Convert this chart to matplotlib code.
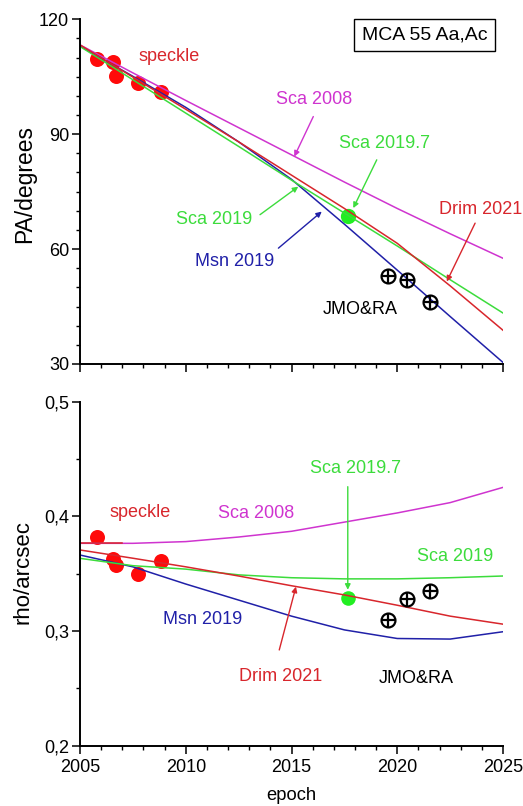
import matplotlib
matplotlib.use('Agg')
import matplotlib.pyplot as plt
from matplotlib.ticker import MultipleLocator, FixedLocator, FixedFormatter

plt.rcParams['font.family'] = ['Liberation Sans', 'DejaVu Sans']

# ---------------- data ----------------
years = [2005, 2007.5, 2010, 2012.5, 2015, 2017.5, 2020, 2022.5, 2025]

# Position angle (degrees)
pa_sca2008 = [113.3, 106.0, 98.8, 91.7, 84.6, 77.5, 70.6, 64.0, 57.6]
pa_drim2021 = [113.3, 104.9, 96.5, 88.0, 79.3, 70.6, 61.5, 50.4, 38.8]
pa_sca2019 = [112.9, 104.2, 95.5, 86.8, 78.0, 69.4, 60.8, 52.0, 43.3]
pa_msn2019 = [113.0, 105.1, 97.0, 88.0, 78.2, 66.5, 54.5, 42.4, 30.4]

# Separation (arcsec)
rho_sca2008 = [0.3765, 0.3765, 0.378, 0.382, 0.387, 0.395, 0.403, 0.412, 0.4253]
rho_drim2021 = [0.3707, 0.3635, 0.356, 0.348, 0.3395, 0.3315, 0.3225, 0.313, 0.306]
rho_sca2019 = [0.3634, 0.357, 0.354, 0.349, 0.3465, 0.3455, 0.3455, 0.3465, 0.348]
rho_msn2019 = [0.3663, 0.356, 0.341, 0.327, 0.313, 0.301, 0.2935, 0.293, 0.2994]
seg_years = [2005, 2007]
seg_rho = [0.3765, 0.3765]

# Speckle measurements
speckle_t = [2005.79, 2006.54, 2006.68, 2007.76, 2008.81]
speckle_pa = [109.6, 108.8, 105.2, 103.3, 101.0]
speckle_rho = [0.382, 0.363, 0.358, 0.350, 0.361]

# Sca 2019.7 point
sca197_t = [2017.66]
sca197_pa = [68.7]
sca197_rho = [0.329]

# JMO&RA measurements
jmo_t = [2019.58, 2020.46, 2021.56]
jmo_pa = [52.9, 52.0, 46.1]
jmo_rho = [0.310, 0.328, 0.335]

pa_ticks = [30, 60, 90, 120]
rho_ticks = [0.2, 0.3, 0.4, 0.5]
rho_ticklabels = ['0,2', '0,3', '0,4', '0,5']
year_ticks = [2005, 2010, 2015, 2020, 2025]

# ---------------- colours ----------------
C_RED = '#d8262c'
C_DOT = '#ff0a0a'
C_MAG = '#cf34cf'
C_GRN = '#3cdc3c'
C_BLU = '#2020a8'

fig = plt.figure(figsize=(5.23, 8.06), dpi=100)
ax1 = fig.add_axes([0.153, 0.5484, 0.8088, 0.4277])
ax2 = fig.add_axes([0.153, 0.0748, 0.8088, 0.4268])

for ax in (ax1, ax2):
    ax.spines['top'].set_visible(False)
    ax.spines['right'].set_visible(False)
    ax.spines['left'].set_linewidth(1.4)
    ax.spines['bottom'].set_linewidth(1.4)
    ax.set_xlim(2005, 2025)
    ax.xaxis.set_major_locator(FixedLocator(year_ticks))
    ax.xaxis.set_minor_locator(MultipleLocator(1))
    ax.tick_params(which='major', length=5.8, width=1.1, labelsize=13, pad=2)
    ax.tick_params(which='minor', length=3.0, width=1.0)
    ax.tick_params(axis='x', which='major', pad=4)

lw = 1.1
# ---- top panel ----
ax1.set_ylim(30, 120)
ax1.yaxis.set_major_locator(FixedLocator(pa_ticks))
ax1.yaxis.set_minor_locator(MultipleLocator(5))
ax1.tick_params(axis='x', labelbottom=False)

ax1.plot(speckle_t, speckle_pa, 'o', color=C_DOT, ms=10.8, mec='none', zorder=1)
ax1.plot(sca197_t, sca197_pa, 'o', color='#22ee22', ms=11, mec='none', zorder=1)
ax1.plot(years, pa_sca2008, color=C_MAG, lw=lw, zorder=2)
ax1.plot(years, pa_msn2019, color=C_BLU, lw=lw, zorder=2)
ax1.plot(years, pa_sca2019, color=C_GRN, lw=lw, zorder=2)
ax1.plot(years, pa_drim2021, color=C_RED, lw=lw, zorder=2)
ax1.plot(jmo_t, jmo_pa, 'o', mfc='none', mec='black', mew=1.6, ms=10, zorder=4)
ax1.plot(jmo_t, jmo_pa, '+', color='black', mew=1.6, ms=10, zorder=4)

fs = 13
def arrow(ax, start, end, color):
    ax.annotate('', xy=end, xytext=start,
                arrowprops=dict(arrowstyle='-|>', color=color, lw=1.0,
                                mutation_scale=8, shrinkA=0, shrinkB=0))

ax1.text(2009.21, 110.2, 'speckle', color=C_RED, fontsize=fs, ha='center', va='center')
ax1.text(2016.06, 98.94, 'Sca 2008', color=C_MAG, fontsize=fs, ha='center', va='center')
arrow(ax1, (2016.03, 94.6), (2015.13, 84.15), C_MAG)
ax1.text(2019.40, 87.64, 'Sca 2019.7', color=C_GRN, fontsize=fs, ha='center', va='center')
arrow(ax1, (2019.03, 83.3), (2017.92, 70.7), C_GRN)
ax1.text(2011.35, 67.63, 'Sca 2019', color=C_GRN, fontsize=fs, ha='center', va='center')
arrow(ax1, (2013.51, 68.98), (2015.32, 76.3), C_GRN)
ax1.text(2012.31, 56.75, 'Msn 2019', color=C_BLU, fontsize=fs, ha='center', va='center')
arrow(ax1, (2014.38, 60.24), (2016.43, 69.8), C_BLU)
ax1.text(2021.95, 70.42, 'Drim 2021', color=C_RED, fontsize=fs, ha='left', va='center', clip_on=False)
arrow(ax1, (2023.68, 66.77), (2022.34, 51.53), C_RED)
ax1.text(2018.23, 44.14, 'JMO&RA', color='black', fontsize=fs, ha='center', va='center')
ax1.text(0.815, 0.954, 'MCA 55 Aa,Ac', transform=ax1.transAxes, fontsize=14,
         ha='center', va='center',
         bbox=dict(boxstyle='square,pad=0.4', fc='white', ec='black', lw=1.0))

# ---- bottom panel ----
ax2.set_ylim(0.2, 0.5)
ax2.yaxis.set_major_locator(FixedLocator(rho_ticks))
ax2.yaxis.set_major_formatter(FixedFormatter(rho_ticklabels))
ax2.yaxis.set_minor_locator(MultipleLocator(0.05))

ax2.plot(speckle_t, speckle_rho, 'o', color=C_DOT, ms=10.8, mec='none', zorder=1)
ax2.plot(sca197_t, sca197_rho, 'o', color='#22ee22', ms=10.5, mec='none', zorder=1)
ax2.plot(years, rho_sca2008, color=C_MAG, lw=lw, zorder=2)
ax2.plot(seg_years, seg_rho, color=C_RED, lw=lw, zorder=2)
ax2.plot(years, rho_msn2019, color=C_BLU, lw=lw, zorder=2)
ax2.plot(years, rho_sca2019, color=C_GRN, lw=lw, zorder=2)
ax2.plot(years, rho_drim2021, color=C_RED, lw=lw, zorder=2)
ax2.plot(jmo_t, jmo_rho, 'o', mfc='none', mec='black', mew=1.6, ms=10, zorder=4)
ax2.plot(jmo_t, jmo_rho, '+', color='black', mew=1.6, ms=10, zorder=4)

ax2.text(2007.86, 0.4032, 'speckle', color=C_RED, fontsize=fs, ha='center', va='center')
ax2.text(2013.35, 0.4027, 'Sca 2008', color=C_MAG, fontsize=fs, ha='center', va='center')
ax2.text(2018.02, 0.4419, 'Sca 2019.7', color=C_GRN, fontsize=fs, ha='center', va='center')
arrow(ax2, (2017.66, 0.4259), (2017.66, 0.336), C_GRN)
ax2.text(2022.75, 0.3648, 'Sca 2019', color=C_GRN, fontsize=fs, ha='center', va='center')
ax2.text(2010.79, 0.3102, 'Msn 2019', color=C_BLU, fontsize=fs, ha='center', va='center')
ax2.text(2014.49, 0.2602, 'Drim 2021', color=C_RED, fontsize=fs, ha='center', va='center')
arrow(ax2, (2014.42, 0.2835), (2015.21, 0.3387), C_RED)
ax2.text(2020.88, 0.2588, 'JMO&RA', color='black', fontsize=fs, ha='center', va='center')

# axis labels
fig.text(25 / 523, 1 - 184 / 806, 'PA/degrees', rotation=90, fontsize=16.5,
         ha='center', va='center')
fig.text(23.3 / 523, 1 - 571.5 / 806, 'rho/arcsec', rotation=90, fontsize=16,
         ha='center', va='center')
fig.text(291.7 / 523, 1 - 795 / 806, 'epoch', fontsize=13.2, ha='center', va='center')

fig.savefig('out.png', dpi=100)
